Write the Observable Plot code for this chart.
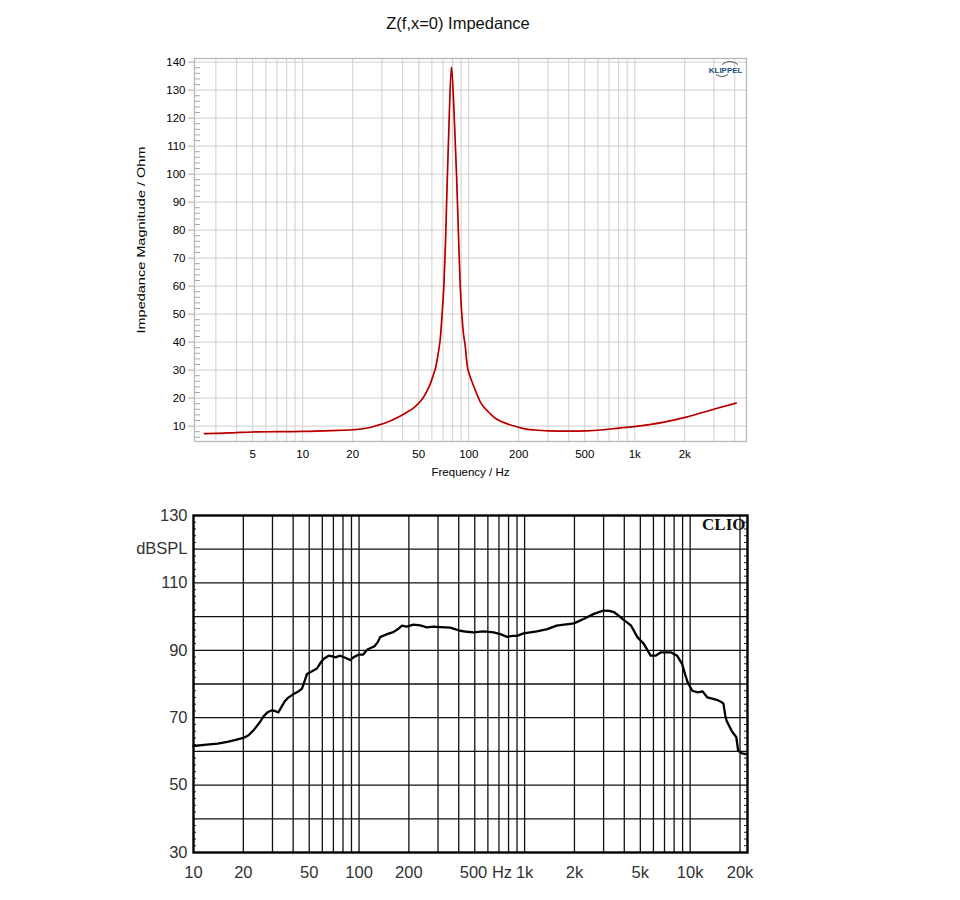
<!DOCTYPE html>
<html>
<head>
<meta charset="utf-8">
<script src="https://cdn.jsdelivr.net/npm/d3@7"></script>
<script src="https://cdn.jsdelivr.net/npm/@observablehq/plot@0.6"></script>
<style>
  body { margin: 0; background: #fff; }
  #wrap { position: relative; width: 960px; height: 900px; font-family: Arial, "Liberation Sans", sans-serif; }
  #title { position: absolute; top: 14px; left: 0; width: 916px; text-align: center; font-size: 16.5px; color: #111; }
  #top { position: absolute; top: 40px; left: 0; }
  #bot { position: absolute; top: 490px; left: 0; }
</style>
</head>
<body>
<div id="wrap">
  <div id="title">Z(f,x=0) Impedance</div>
  <div id="top"></div>
  <div id="bot"></div>
</div>
<script>
// ---------- Impedance chart data ----------
const zFreq = [2.56, 3, 4, 5, 7, 10, 15, 20, 25, 28, 32, 37, 42, 46.6, 50, 53.3, 56, 58.7, 61, 63.3, 65.5, 67.6, 69.1, 70.8, 72.4, 74, 75.8, 78.7, 82.1, 84.4, 86.8, 88.9, 92.2, 95.5, 97.7, 101.6, 106.8, 117.5, 135, 141, 171, 200, 215, 250, 302, 400, 508, 650, 808, 1020, 1500, 2040, 3060, 4080];
const zOhm  = [7.3, 7.4, 7.7, 7.9, 8.0, 8.1, 8.4, 8.7, 9.4, 10.2, 11.3, 13.0, 14.8, 16.5, 18.2, 20.2, 22.5, 25.1, 28, 31.1, 36, 42, 50, 60, 75, 95, 115, 138.2, 118, 100, 78, 60, 45, 38, 32, 28, 24.5, 18.6, 14.4, 13.3, 10.8, 9.6, 9.1, 8.6, 8.3, 8.2, 8.3, 8.7, 9.3, 9.9, 11.4, 13.2, 16.2, 18.2];
const zXDomain = [2.23, 4710];
const zYDomain = [4.5, 141.3];
const zGridX = [3,4,5,6,7,8,9,10,20,30,40,50,60,70,80,90,100,200,300,400,500,600,700,800,900,1000,2000,3000,4000];
const zGridY = [10,20,30,40,50,60,70,80,90,100,110,120,130,140];
const zXTicks = [5, 10, 20, 50, 100, 200, 500, 1000, 2000];
const zXTickLabels = ["5", "10", "20", "50", "100", "200", "500", "1k", "2k"];
const zYMinor = d3.range(6, 141, 2).filter(v => v % 10 !== 0);
const zTitleX = "Frequency / Hz";
const zTitleY = "Impedance Magnitude / Ohm";

// ---------- SPL chart data ----------
const splFreq = [10, 12, 14, 16, 18, 20, 21.5, 23.1, 25, 26.5, 28, 29.8, 31, 32.6, 34, 35.5, 37, 40.2, 43, 45.2, 47, 48.5, 52, 55.7, 58, 61, 65.5, 69, 72, 77, 82.5, 88.3, 92.5, 99, 106, 110, 114, 124, 130, 134, 146, 161, 172, 181.5, 194, 213, 234, 257, 282, 309, 355, 408, 450, 490, 565, 650, 713, 785, 850, 900, 985, 1186, 1370, 1560, 1985, 2270, 2620, 3000, 3250, 3470, 3700, 3900, 4400, 4800, 5250, 5770, 6180, 6660, 7640, 8340, 8950, 9300, 9660, 10300, 11100, 11900, 12700, 14500, 15600, 15900, 16300, 16600, 17800, 19000, 19500, 20600, 21700];
const splDb   = [61.6, 62.0, 62.3, 62.8, 63.4, 64.0, 64.8, 66.3, 68.5, 70.4, 71.6, 72.2, 72.0, 71.6, 73.2, 74.8, 75.8, 77.0, 77.8, 78.6, 81, 83, 83.8, 84.6, 86, 87.4, 88.4, 88.2, 87.9, 88.4, 87.8, 87.1, 87.9, 88.7, 88.7, 89.8, 90.4, 91.2, 92.5, 93.9, 94.7, 95.4, 96.3, 97.3, 97.0, 97.6, 97.4, 96.8, 97.0, 96.9, 96.7, 95.8, 95.5, 95.3, 95.6, 95.3, 94.8, 94.0, 94.3, 94.3, 95.0, 95.6, 96.3, 97.3, 98.0, 99.3, 100.8, 101.8, 101.7, 101.3, 100.3, 99.3, 97.3, 93.9, 91.9, 88.4, 88.4, 89.4, 89.4, 88.4, 85.9, 83, 80.5, 78.0, 77.5, 77.8, 76.0, 75.3, 74.5, 74.1, 70.6, 69.1, 66.1, 64.2, 60.2, 59.4, 59.2];
const splXDomain = [10, 22200];
const splYDomain = [30, 130];
const splGridX = [20,30,40,50,60,70,80,90,100,200,300,400,500,600,700,800,900,1000,2000,3000,4000,5000,6000,7000,8000,9000,10000,20000];
const splGridY = [40,50,60,70,80,90,100,110,120];
const splXTicks = [10, 20, 50, 100, 200, 500, 1000, 2000, 5000, 10000, 20000];
const splXTickLabels = ["10", "20", "50", "100", "200", "500 Hz", "1k", "2k", "5k", "10k", "20k"];
const splYTicks = [130, 120, 110, 90, 70, 50, 30];
const splYTickLabels = ["130", "dBSPL", "110", "90", "70", "50", "30"];
const splMinor = d3.range(32, 130, 2).filter(v => v % 10 !== 0);

const FONT = "Arial, 'Liberation Sans', sans-serif";

// ---------- Top chart ----------
const zData = zFreq.map((f, i) => ({f, z: zOhm[i]}));
const zW = 960, zML = 194, zMR = 214;
const zFrameW = zW - zML - zMR;
const topPlot = Plot.plot({
  width: zW, height: 450,
  marginTop: 18, marginBottom: 49, marginLeft: zML, marginRight: zMR,
  style: {fontFamily: FONT, background: "transparent", overflow: "visible"},
  x: {type: "log", domain: zXDomain, axis: null},
  y: {domain: zYDomain, axis: null},
  marks: [
    Plot.ruleX(zGridX, {x: d => d, stroke: "#cfcfcf", strokeWidth: 1}),
    Plot.ruleY(zGridY, {y: d => d, stroke: "#cfcfcf", strokeWidth: 1}),
    Plot.ruleY(zYMinor, {y: d => d, stroke: "#a8a8a8", insetRight: zFrameW - 6}),
    Plot.ruleY(zGridY, {y: d => d, stroke: "#a8a8a8", insetRight: zFrameW - 6, dx: -6}),
    Plot.frame({stroke: "#b8b8b8", strokeWidth: 1.3}),
    Plot.text(zGridY, {y: d => d, frameAnchor: "left", dx: -9, textAnchor: "end", lineAnchor: "middle", text: d => String(d), fontSize: 11.5, fill: "#000"}),
    Plot.text(zXTicks, {x: d => d, frameAnchor: "bottom", dy: 13, lineAnchor: "middle", text: (d, i) => zXTickLabels[i], fontSize: 11.5, fill: "#000"}),
    Plot.text([zTitleX], {frameAnchor: "bottom", dy: 31, lineAnchor: "middle", text: d => d, fontSize: 11.5, fill: "#000"}),
    Plot.text([zTitleY], {frameAnchor: "left", dx: -53, dy: -10, rotate: -90, textAnchor: "middle", lineAnchor: "middle", text: d => d, fontSize: 11, fill: "#000"}),
    Plot.line(zData, {x: "f", y: "z", stroke: "#e80000", strokeWidth: 1.7, curve: "monotone-x"}),
    Plot.line(zData, {x: "f", y: "z", stroke: "#000", strokeWidth: 0.6, strokeOpacity: 0.55, curve: "monotone-x"}),
    Plot.text(["KLIPPEL"], {frameAnchor: "top-right", dx: -4, dy: 11.5, textAnchor: "end", lineAnchor: "middle", text: d => d, fontSize: 8, fontWeight: "bold", fill: "#1d4f7c"})
  ]
});
document.getElementById("top").appendChild(topPlot);
d3.select(topPlot).selectAll("text")
  .filter(function() { return this.textContent === zTitleY; })
  .attr("textLength", 187).attr("lengthAdjust", "spacingAndGlyphs");
// small logo swooshes
{
  const svg = d3.select(topPlot);
  const xr = zW - zMR - 4, yr = 18 + 11.5;
  svg.append("path").attr("d", `M${xr-20},${yr-5} Q${xr-12},${yr-11} ${xr-4},${yr-5}`).attr("fill", "none").attr("stroke", "#555").attr("stroke-width", 1);
  svg.append("path").attr("d", `M${xr-26},${yr+5} Q${xr-20},${yr+9} ${xr-14},${yr+5}`).attr("fill", "none").attr("stroke", "#555").attr("stroke-width", 1);
}

// ---------- Bottom chart ----------
const splData = splFreq.map((f, i) => ({f, db: splDb[i]}));
const sW = 960, sML = 193, sMR = 213;
const sFrameW = sW - sML - sMR;
const hzIdx = splXTickLabels.findIndex(s => s.includes("Hz"));
const botPlot = Plot.plot({
  width: sW, height: 410,
  marginTop: 25, marginBottom: 48, marginLeft: sML, marginRight: sMR,
  style: {fontFamily: FONT, background: "transparent", overflow: "visible"},
  x: {type: "log", domain: splXDomain, axis: null},
  y: {domain: splYDomain, axis: null},
  marks: [
    Plot.ruleX(splGridX, {x: d => d, stroke: "#111", strokeWidth: 1.3}),
    Plot.ruleY(splGridY, {y: d => d, stroke: "#111", strokeWidth: 1.3}),
    Plot.ruleY(splMinor, {y: d => d, stroke: "#222", insetRight: sFrameW - 3}),
    Plot.ruleY(splMinor, {y: d => d, stroke: "#222", insetLeft: sFrameW - 3}),
    Plot.frame({stroke: "#000", strokeWidth: 2.4}),
    Plot.text(splYTicks, {y: d => d, frameAnchor: "left", dx: -6, textAnchor: "end", lineAnchor: "middle", text: (d, i) => splYTickLabels[i], fontSize: 16.5, fill: "#333"}),
    Plot.text(splXTicks.filter((d, i) => i !== hzIdx), {x: d => d, frameAnchor: "bottom", dy: 20, lineAnchor: "middle", text: d => splXTickLabels[splXTicks.indexOf(d)], fontSize: 16.5, fill: "#333"}),
    Plot.text([splXTicks[hzIdx]], {x: d => d, frameAnchor: "bottom", dy: 20, dx: -15, textAnchor: "start", lineAnchor: "middle", text: () => splXTickLabels[hzIdx], fontSize: 16.5, fill: "#333"}),
    Plot.line(splData, {x: "f", y: "db", stroke: "#000", strokeWidth: 2.3}),
    Plot.text(["CLIO"], {frameAnchor: "top-right", dx: -2, dy: 9, textAnchor: "end", lineAnchor: "middle", text: d => d, fontSize: 17, fontWeight: "bold", fontFamily: "'Times New Roman', 'Liberation Serif', serif", fill: "#111"})
  ]
});
document.getElementById("bot").appendChild(botPlot);
</script>
</body>
</html>
